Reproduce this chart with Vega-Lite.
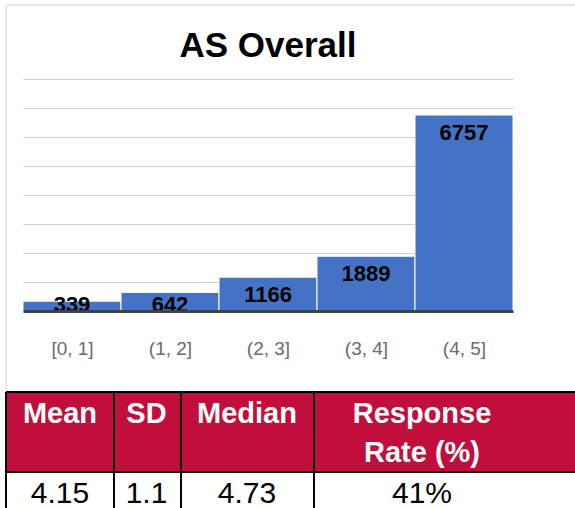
{
  "$schema": "https://vega.github.io/schema/vega-lite/v6.json",
  "padding": {"left": 5, "top": 4, "right": 0, "bottom": 0},
  "autosize": {"type": "pad"},
  "background": "white",
  "spacing": 0,
  "config": {"view": {"stroke": null}, "font": "Liberation Sans"},
  "datasets": {
    "bins": [
      {"bin": "[0, 1]", "lo": 0, "hi": 1, "count": 339},
      {"bin": "(1, 2]", "lo": 1, "hi": 2, "count": 642},
      {"bin": "(2, 3]", "lo": 2, "hi": 3, "count": 1166},
      {"bin": "(3, 4]", "lo": 3, "hi": 4, "count": 1889},
      {"bin": "(4, 5]", "lo": 4, "hi": 5, "count": 6757}
    ],
    "stats": [
      {"col": "Mean", "header": "Mean", "value": "4.15", "i": 0, "j": 1},
      {"col": "SD", "header": "SD", "value": "1.1", "i": 1, "j": 2},
      {"col": "Median", "header": "Median", "value": "4.73", "i": 2, "j": 3},
      {"col": "Response Rate (%)", "header": "Response\nRate (%)", "value": "41%", "i": 3, "j": 5}
    ]
  },
  "vconcat": [
    {
      "width": 490,
      "height": 232,
      "data": {"name": "bins"},
      "layer": [
        {
          "data": {"values": [{}]},
          "mark": {"type": "rule", "color": "#d4d4d4", "strokeWidth": 1},
          "encoding": {
            "x": {"datum": -0.1735, "type": "quantitative", "scale": {"domain": [0, 5], "nice": false, "zero": false}},
            "y": {"datum": 10552, "type": "quantitative", "scale": {"domain": [0, 8000], "nice": false, "zero": false}},
            "y2": {"datum": -2724}
          }
        },
        {
          "data": {"values": [{}]},
          "mark": {"type": "rule", "color": "#d4d4d4", "strokeWidth": 1},
          "encoding": {
            "x": {"datum": -0.1735, "type": "quantitative", "scale": {"domain": [0, 5], "nice": false, "zero": false}},
            "x2": {"datum": 5.643},
            "y": {"datum": 10552, "type": "quantitative", "scale": {"domain": [0, 8000], "nice": false, "zero": false}}
          }
        },
        {
          "data": {"values": [{"title": "AS Overall"}]},
          "mark": {"type": "text", "font": "Liberation Sans", "fontWeight": "bold", "fontSize": 35, "baseline": "alphabetic", "align": "center", "color": "black"},
          "encoding": {
            "x": {"datum": 2.5, "type": "quantitative", "scale": {"domain": [0, 5], "nice": false, "zero": false}},
            "y": {"datum": 8759, "type": "quantitative", "scale": {"domain": [0, 8000], "nice": false, "zero": false}},
            "text": {"field": "title"}
          }
        },
        {
          "mark": {"type": "bar", "color": "#4472C4", "stroke": "#ffffff", "strokeWidth": 1},
          "encoding": {
            "x": {
              "field": "lo", "type": "quantitative",
              "scale": {"domain": [0, 5], "nice": false, "zero": false},
              "axis": {
                "title": null, "grid": false, "ticks": false, "tickSize": 0,
                "domain": true, "domainColor": "#404040", "domainWidth": 3,
                "values": [0.5, 1.5, 2.5, 3.5, 4.5], "tickCount": 10,
                "labelExpr": "['[0, 1]', '(1, 2]', '(2, 3]', '(3, 4]', '(4, 5]'][floor(datum.value)]",
                "labelFont": "Liberation Sans", "labelFontSize": 19, "labelColor": "#6b6b6b",
                "labelBaseline": "alphabetic", "labelPadding": 43, "labelFlush": false, "zindex": 1
              }
            },
            "x2": {"field": "hi"},
            "y": {
              "field": "count", "type": "quantitative",
              "scale": {"domain": [0, 8000], "nice": false, "zero": false},
              "axis": {
                "title": null, "grid": true, "gridColor": "#d0d0d0", "gridWidth": 1,
                "labels": false, "ticks": false, "domain": false, "tickCount": 10,
                "values": [1000, 2000, 3000, 4000, 5000, 6000, 7000, 8000]
              }
            },
            "y2": {"datum": 0}
          }
        },
        {
          "transform": [{"filter": "datum.count >= 1000"}],
          "mark": {"type": "text", "font": "Liberation Sans", "fontWeight": "bold", "fontSize": 22, "baseline": "alphabetic", "align": "center", "dx": 49, "dy": 25, "color": "black"},
          "encoding": {
            "x": {"field": "lo", "type": "quantitative", "scale": {"domain": [0, 5], "nice": false, "zero": false}},
            "y": {"field": "count", "type": "quantitative", "scale": {"domain": [0, 8000], "nice": false, "zero": false}},
            "text": {"field": "count"}
          }
        },
        {
          "transform": [{"filter": "datum.count < 1000"}],
          "mark": {"type": "text", "font": "Liberation Sans", "fontWeight": "bold", "fontSize": 22, "baseline": "alphabetic", "align": "center", "dx": 49, "dy": 1, "color": "black"},
          "encoding": {
            "x": {"field": "lo", "type": "quantitative", "scale": {"domain": [0, 5], "nice": false, "zero": false}},
            "y": {"datum": 0, "type": "quantitative", "scale": {"domain": [0, 8000], "nice": false, "zero": false}},
            "text": {"field": "count"}
          }
        }
      ]
    },
    {
      "width": 553,
      "height": 119,
      "data": {"name": "stats"},
      "layer": [
        {
          "mark": {"type": "rect", "color": "#C00F3C"},
          "encoding": {
            "x": {"field": "i", "type": "quantitative", "scale": {"domain": [0, 1, 2, 3, 4, 5], "range": [-17, 91, 158, 291, 507, 553]}, "axis": null},
            "x2": {"field": "j"},
            "y": {"datum": 0, "type": "quantitative", "scale": {"domain": [0, 1, 2], "range": [0, 80, 119]}, "axis": null},
            "y2": {"datum": 1}
          }
        },
        {
          "mark": {"type": "rule", "color": "black", "strokeWidth": 2},
          "encoding": {
            "x": {"field": "i", "type": "quantitative", "scale": {"domain": [0, 1, 2, 3, 4, 5], "range": [-17, 91, 158, 291, 507, 553]}, "axis": null},
            "y": {"datum": 0, "type": "quantitative", "scale": {"domain": [0, 1, 2], "range": [0, 80, 119]}, "axis": null},
            "y2": {"datum": 2}
          }
        },
        {
          "data": {"values": [{"row": 0}, {"row": 1}]},
          "mark": {"type": "rule", "color": "black", "strokeWidth": 2},
          "encoding": {
            "x": {"datum": 0, "type": "quantitative", "scale": {"domain": [0, 1, 2, 3, 4, 5], "range": [-17, 91, 158, 291, 507, 553]}, "axis": null},
            "x2": {"datum": 5},
            "y": {"field": "row", "type": "quantitative", "scale": {"domain": [0, 1, 2], "range": [0, 80, 119]}, "axis": null}
          }
        },
        {
          "mark": {"type": "text", "color": "white", "fontWeight": "bold", "fontSize": 29, "font": "Liberation Sans", "baseline": "alphabetic", "align": "center", "dy": 31, "lineBreak": "\n", "lineHeight": 39},
          "encoding": {
            "x": {"field": "i", "type": "quantitative", "scale": {"domain": [0, 1, 2, 3], "range": [37, 123.5, 224, 399]}, "axis": null},
            "y": {"datum": 0, "type": "quantitative", "scale": {"domain": [0, 1, 2], "range": [0, 80, 119]}, "axis": null},
            "text": {"field": "header"}
          }
        },
        {
          "mark": {"type": "text", "color": "black", "fontWeight": "normal", "fontSize": 30, "font": "Liberation Sans", "baseline": "alphabetic", "align": "center", "dy": 31},
          "encoding": {
            "x": {"field": "i", "type": "quantitative", "scale": {"domain": [0, 1, 2, 3], "range": [37, 123.5, 224, 399]}, "axis": null},
            "y": {"datum": 1, "type": "quantitative", "scale": {"domain": [0, 1, 2], "range": [0, 80, 119]}, "axis": null},
            "text": {"field": "value"}
          }
        }
      ],
      "resolve": {"scale": {"x": "independent"}}
    }
  ]
}
